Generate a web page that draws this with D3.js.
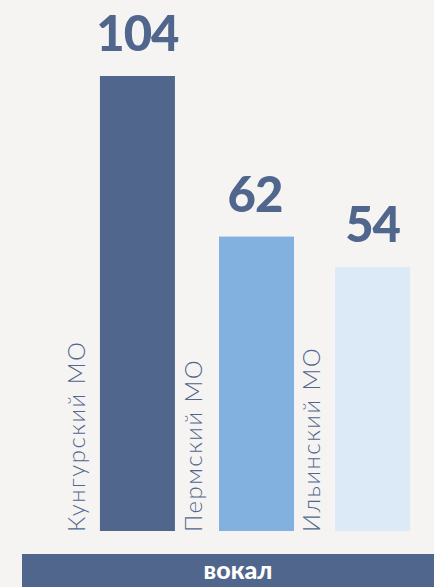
<!DOCTYPE html>
<html><head><meta charset="utf-8">
<script src="https://cdn.jsdelivr.net/npm/d3@7"></script>
<style>
html,body{margin:0;padding:0;background:#f5f4f2;}
svg{display:block;}
</style></head>
<body>
<script>
const categories = ["Кунгурский МО", "Пермский МО", "Ильинский МО"];
const values = [104, 62, 54];
const colors = ["#51668c", "#82b1e0", "#dce9f6"];
const groupLabel = "вокал";

const W = 434, H = 587;
const svg = d3.select("body").append("svg").attr("width", W).attr("height", H);
svg.append("rect").attr("width", W).attr("height", H).attr("fill", "#f5f4f2");

const x = d3.scaleBand().domain(categories).range([100 - 21.25, 410 + 21.25]).paddingInner(0.362).paddingOuter(0.18);
const base = -15;
const y = d3.scaleLinear().domain([base, 104]).range([531, 76]);

svg.selectAll("rect.bar").data(values).join("rect")
  .attr("class", "bar")
  .attr("x", (d, i) => x(categories[i]) + (i === 1 ? 1.5 : 0))
  .attr("width", x.bandwidth())
  .attr("y", d => y(d))
  .attr("height", d => y(base) - y(d))
  .attr("fill", (d, i) => colors[i]);

svg.selectAll("text.val").data(values).join("text")
  .attr("class", "val")
  .attr("x", (d, i) => x(categories[i]) + x.bandwidth() / 2)
  .attr("y", d => y(d) - 25)
  .attr("text-anchor", "middle")
  .attr("font-family", "Lato, 'Open Sans', sans-serif")
  .attr("font-weight", 900)
  .attr("font-size", 49)
  .attr("letter-spacing", -1)
  .attr("fill", "#51668c")
  .text(d => d);

svg.selectAll("text.cat").data(categories).join("text")
  .attr("class", "cat")
  .attr("transform", d => `translate(${x(d) - 15},${y(base) + 1}) rotate(-90)`)
  .attr("font-family", "Lato, sans-serif")
  .attr("font-weight", 300)
  .attr("font-size", 24)
  .attr("letter-spacing", 1.5)
  .attr("fill", "#51668c")
  .text(d => d);

svg.append("rect").attr("x", 22).attr("y", 554).attr("width", W - 22).attr("height", H - 554).attr("fill", "#51668c");
svg.append("text").attr("x", 238).attr("y", 579)
  .attr("text-anchor", "middle")
  .attr("font-family", "Lato, 'Open Sans', sans-serif")
  .attr("font-weight", 900)
  .attr("font-size", 25)
  .attr("fill", "#ffffff")
  .text(groupLabel);
</script>
</body></html>
